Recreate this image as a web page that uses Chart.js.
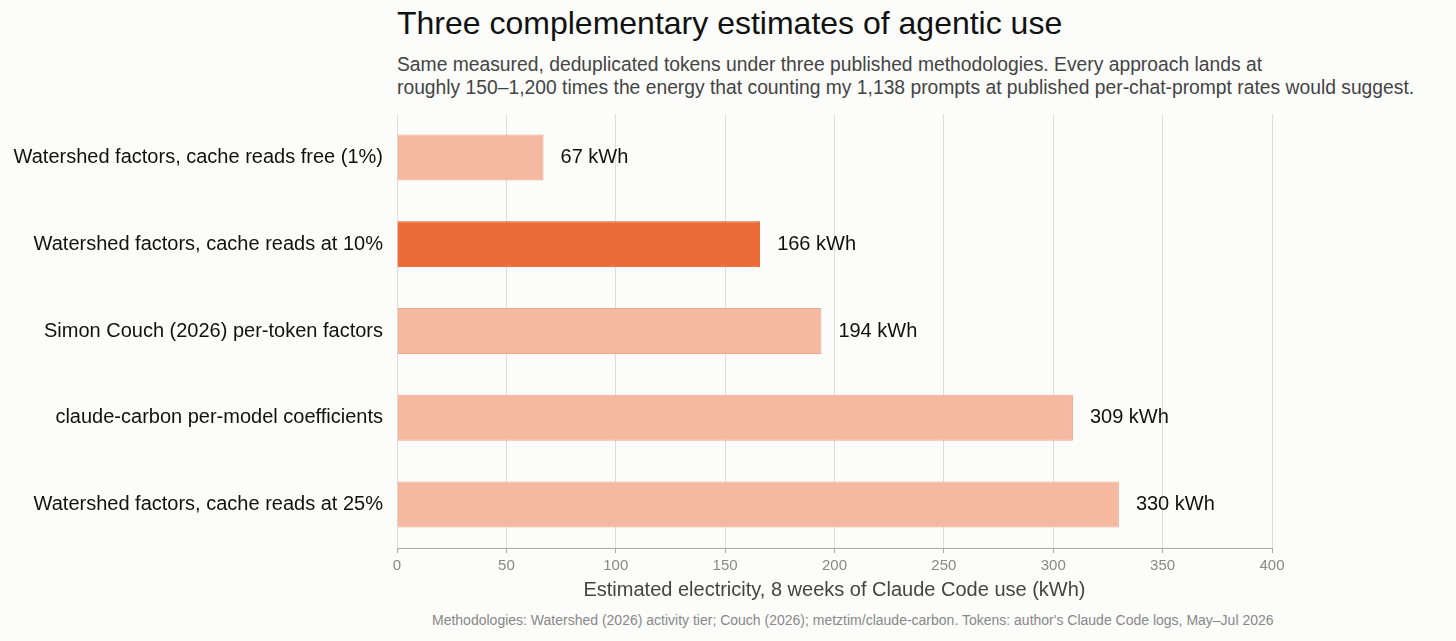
<!DOCTYPE html>
<html>
<head>
<meta charset="utf-8">
<script src="https://cdn.jsdelivr.net/npm/chart.js@4"></script>
<style>
  body { margin: 0; background: #fcfcfa; font-family: "Liberation Sans", Arial, sans-serif; }
  #wrap { position: relative; width: 1456px; height: 641px; overflow: hidden; }
  #title { position: absolute; left: 397px; top: 5px; font-size: 32px; color: #111; white-space: nowrap; }
  #sub { position: absolute; left: 397px; top: 53px; font-size: 19.3px; line-height: 23px; color: #444; white-space: nowrap; }
  #note { position: absolute; left: 432px; top: 612px; font-size: 14px; color: #888; white-space: nowrap; }
  #box { position: absolute; left: 0; top: 96px; width: 1456px; height: 516px; }
</style>
</head>
<body>
<div id="wrap">
  <div id="title">Three complementary estimates of agentic use</div>
  <div id="sub">Same measured, deduplicated tokens under three published methodologies. Every approach lands at<br>roughly 150–1,200 times the energy that counting my 1,138 prompts at published per-chat-prompt rates would suggest.</div>
  <div id="box"><canvas id="chart"></canvas></div>
  <div id="note">Methodologies: Watershed (2026) activity tier; Couch (2026); metztim/claude-carbon. Tokens: author's Claude Code logs, May–Jul 2026</div>
</div>
<script>
const labels = [
  "Watershed factors, cache reads free (1%)",
  "Watershed factors, cache reads at 10%",
  "Simon Couch (2026) per-token factors",
  "claude-carbon per-model coefficients",
  "Watershed factors, cache reads at 25%"
];
const values = [67, 166, 194, 309, 330];
const highlight = [false, true, false, false, false];

const barLabels = {
  id: 'barLabels',
  afterDatasetsDraw(chart) {
    const ctx = chart.ctx;
    const meta = chart.getDatasetMeta(0);
    ctx.save();
    ctx.font = '20px "Liberation Sans", Arial, sans-serif';
    ctx.fillStyle = '#111';
    ctx.textBaseline = 'middle';
    meta.data.forEach((bar, i) => {
      ctx.fillText(values[i] + ' kWh', bar.x + 17, bar.y);
    });
    ctx.restore();
  }
};

new Chart(document.getElementById('chart'), {
  type: 'bar',
  data: {
    labels: labels,
    datasets: [{
      data: values,
      backgroundColor: highlight.map(h => h ? '#ec6b36' : '#f4b9a0'),
      borderColor: highlight.map(h => h ? '#d85a28' : '#eda98c'),
      borderWidth: 1,
      barPercentage: 0.53,
      categoryPercentage: 1
    }]
  },
  options: {
    indexAxis: 'y',
    responsive: true,
    maintainAspectRatio: false,
    animation: false,
    layout: { padding: { right: 184, top: 0, bottom: 0 } },
    plugins: { legend: { display: false }, tooltip: { enabled: false } },
    scales: {
      x: {
        min: 0, max: 400,
        ticks: { stepSize: 50, color: '#888', font: { size: 15 }, padding: 4 },
        grid: { color: '#dddddd', tickLength: 5, tickColor: '#aaa' },
        border: { color: '#aaa' },
        title: { display: true, text: 'Estimated electricity, 8 weeks of Claude Code use (kWh)', color: '#444', font: { size: 20 }, padding: { top: 6, bottom: 10 } },
        afterFit(s) { s.height = 64; }
      },
      y: {
        ticks: { color: '#111', font: { size: 20 }, padding: 6 },
        grid: { display: false },
        border: { display: false },
        afterFit(s) { s.width = 397; }
      }
    }
  },
  plugins: [barLabels]
});
</script>
</body>
</html>
